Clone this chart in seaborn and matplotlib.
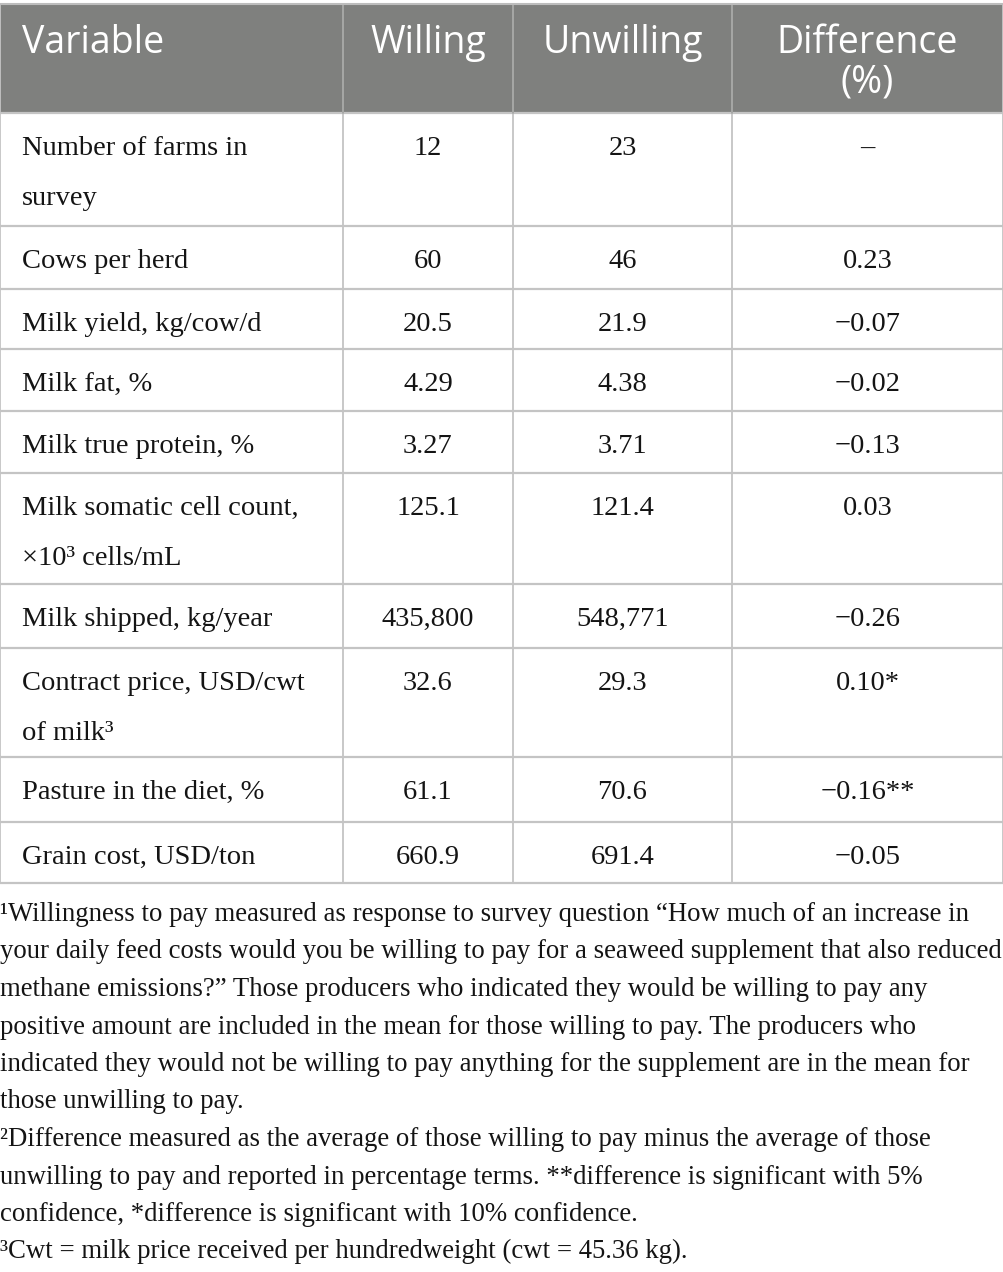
import matplotlib
matplotlib.use("Agg")
import matplotlib.pyplot as plt
import seaborn as sns

# ── Table content ─────────────────────────────────────────────
headers = ["Variable", "Willing", "Unwilling", "Difference\n(%)"]
variables = [
    "Number of farms in\nsurvey",
    "Cows per herd",
    "Milk yield, kg/cow/d",
    "Milk fat, %",
    "Milk true protein, %",
    "Milk somatic cell count,\n×10³ cells/mL",
    "Milk shipped, kg/year",
    "Contract price, USD/cwt\nof milk³",
    "Pasture in the diet, %",
    "Grain cost, USD/ton",
]
willing = ["12", "60", "20.5", "4.29", "3.27", "125.1", "435,800", "32.6", "61.1", "660.9"]
unwilling = ["23", "46", "21.9", "4.38", "3.71", "121.4", "548,771", "29.3", "70.6", "691.4"]
difference = ["–", "0.23", "−0.07", "−0.02", "−0.13", "0.03", "−0.26", "0.10*", "−0.16**", "−0.05"]

footnotes = [
    "¹Willingness to pay measured as response to survey question “How much of an increase in",
    "your daily feed costs would you be willing to pay for a seaweed supplement that also reduced",
    "methane emissions?” Those producers who indicated they would be willing to pay any",
    "positive amount are included in the mean for those willing to pay. The producers who",
    "indicated they would not be willing to pay anything for the supplement are in the mean for",
    "those unwilling to pay.",
    "²Difference measured as the average of those willing to pay minus the average of those",
    "unwilling to pay and reported in percentage terms. **difference is significant with 5%",
    "confidence, *difference is significant with 10% confidence.",
    "³Cwt = milk price received per hundredweight (cwt = 45.36 kg).",
]

# ── Layout (pixels) ───────────────────────────────────────────
W, H = 1004, 1272
col_edges = [0, 343, 513, 732, 1003]
table_top = 4
header_bottom = 113
row_edges = [113, 226, 289, 349, 411, 473, 584, 648, 757, 822, 883]
line_gap = 50
foot_base = 921
foot_gap = 37.5

HEADER_BG = "#7f807e"
GRID = "#c4c4c4"
INK = "#141414"
SERIF = ["Liberation Serif", "DejaVu Serif"]
SANS = ["Open Sans", "DejaVu Sans"]

sns.set_theme(style="white")
plt.rcParams["font.family"] = SERIF

fig = plt.figure(figsize=(W / 100, H / 100), dpi=100)
ax = fig.add_axes([0, 0, 1, 1])
ax.set_xlim(0, W)
ax.set_ylim(H, 0)
ax.axis("off")

# header band
ax.axhspan(table_top, header_bottom, xmin=0, xmax=col_edges[-1] / W, color=HEADER_BG, lw=0)
hdr = dict(family=SANS, fontsize=27, color="white", va="baseline")
ax.text(22, 53, headers[0], ha="left", **hdr)
for j in (1, 2):
    cx = (col_edges[j] + col_edges[j + 1]) / 2
    ax.text(cx, 53, headers[j], ha="center", **hdr)
cx = (col_edges[3] + col_edges[4]) / 2
for k, part in enumerate(headers[3].split("\n")):
    ax.text(cx, 53 + 40 * k, part, ha="center", **hdr)

# grid lines
for x in col_edges:
    ax.plot([x, x], [table_top, row_edges[-1]], color=GRID, lw=1.3, zorder=1)
for x in col_edges[1:-1]:
    ax.plot([x, x], [table_top, header_bottom], color="#a3a4a2", lw=1.3, zorder=2)
ax.plot([0, col_edges[-1]], [table_top, table_top], color="#bdbdbd", lw=1.5, zorder=2)
for y in row_edges:
    ax.plot([0, col_edges[-1]], [y, y], color=GRID, lw=1.6, zorder=1)

# body cells
for i, name in enumerate(variables):
    y0 = row_edges[i] + 42
    for k, part in enumerate(name.split("\n")):
        ax.text(22, y0 + line_gap * k, part, fontsize=20.5, color=INK, va="baseline", ha="left")
    for j, vals in zip((1, 2, 3), (willing, unwilling, difference)):
        cx = (col_edges[j] + col_edges[j + 1]) / 2
        ax.text(cx, y0, vals[i], fontsize=20.5, color=INK, va="baseline", ha="center")

# footnotes
for k, line in enumerate(footnotes):
    ax.text(0, foot_base + foot_gap * k, line, fontsize=19.3, color=INK, va="baseline", ha="left")

fig.savefig("out.png", dpi=100, facecolor="white")
